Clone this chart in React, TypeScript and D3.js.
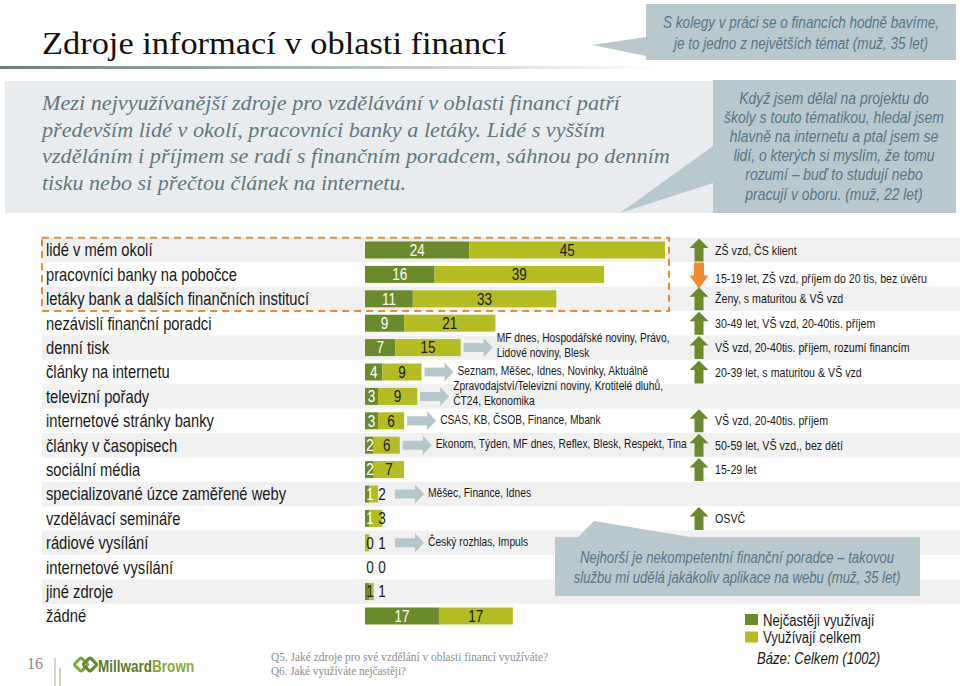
import React from "react";
import * as d3 from "d3";

const categories = [
  "lidé v mém okolí",
  "pracovníci banky na pobočce",
  "letáky bank a dalších finančních institucí",
  "nezávislí finanční poradci",
  "denní tisk",
  "články na internetu",
  "televizní pořady",
  "internetové stránky banky",
  "články v časopisech",
  "sociální média",
  "specializované úzce zaměřené weby",
  "vzdělávací semináře",
  "rádiové vysílání",
  "internetové vysílání",
  "jiné zdroje",
  "žádné",
];
const mostOften = [24, 16, 11, 9, 7, 4, 3, 3, 2, 2, 1, 1, 0, 0, 1, 17];
const usedTotal = [45, 39, 33, 21, 15, 9, 9, 6, 6, 7, 2, 3, 1, 0, 1, 17];
const sourceNotes: string[][] = [
  [], [], [], [],
  ["MF dnes, Hospodářské noviny, Právo,", "Lidové noviny, Blesk"],
  ["Seznam, Měšec, Idnes, Novinky, Aktuálně"],
  ["Zpravodajství/Televizní noviny, Krotitelé dluhů,", "ČT24, Ekonomika"],
  ["CSAS, KB, ČSOB, Finance, Mbank"],
  ["Ekonom, Týden, MF dnes, Reflex, Blesk, Respekt, Tina"],
  [],
  ["Měšec, Finance, Idnes"],
  [],
  ["Český rozhlas, Impuls"],
  [], [], [],
];
const segmentNotes = [
  "ZŠ vzd, ČS klient",
  "15-19 let, ZŠ vzd, příjem do 20 tis, bez úvěru",
  "Ženy, s maturitou & VŠ vzd",
  "30-49 let, VŠ vzd, 20-40tis. příjem",
  "VŠ vzd, 20-40tis. příjem, rozumí financím",
  "20-39 let, s maturitou & VŠ vzd",
  "",
  "VŠ vzd, 20-40tis. příjem",
  "50-59 let, VŠ vzd,, bez dětí",
  "15-29 let",
  "",
  "OSVČ",
  "", "", "", "",
];
const segmentTrend = ["up", "down", "up", "up", "up", "up", "", "up", "up", "up", "", "up", "", "", "", ""];
const highlightedRows = [0, 1, 2];
const legendLabels = ["Nejčastěji využívají", "Využívají celkem"];

const titleText = "Zdroje informací v oblasti financí";
const summaryLines = [
  "Mezi nejvyužívanější zdroje pro vzdělávání v oblasti financí patří",
  "především lidé v okolí, pracovníci banky a letáky. Lidé s vyšším",
  "vzděláním i příjmem se radí s finančním poradcem, sáhnou po denním",
  "tisku nebo si přečtou článek na internetu.",
];
const quoteTop = [
  "S kolegy v práci se o financích hodně bavíme,",
  "je to jedno z největších témat (muž, 35 let)",
];
const quoteRight = [
  "Když jsem dělal na projektu do",
  "školy s touto tématikou, hledal jsem",
  "hlavně na internetu a ptal jsem se",
  "lidí, o kterých si myslím, že tomu",
  "rozumí – buď to studují nebo",
  "pracují v oboru. (muž, 22 let)",
];
const quoteBottom = [
  "Nejhorší je nekompetentní finanční poradce – takovou",
  "službu mi udělá jakákoliv aplikace na webu (muž, 35 let)",
];
const footnotes = [
  "Q5. Jaké zdroje pro své vzdělání v oblasti financí využíváte?",
  "Q6. Jaké využíváte nejčastěji?",
];
const baseNote = "Báze: Celkem (1002)";

const DARK = "#6a8a2b";
const LIGHT = "#b3bc21";
const ORANGE = "#ee8b2c";
const QUOTE_BG = "#b8c8cd";
const QUOTE_TXT = "#5a7684";
const BAND = "#f0f0f0";
const ARROW_GRAY = "#b6c7cc";
const SANS = "'Liberation Sans', Arial, sans-serif";
const SERIF = "'Liberation Serif', 'Times New Roman', serif";
const NARROW = 0.82;

function NText(props: {
  x: number; y: number; size: number; children: any;
  anchor?: string; fill?: string; italic?: boolean; weight?: string | number;
}) {
  const { x, y, size, children, anchor = "start", fill = "#1a1a1a", italic = false, weight = "normal" } = props;
  return (
    <text
      transform={`translate(${x},${y}) scale(${NARROW},1)`}
      fontSize={size}
      textAnchor={anchor as any}
      fill={fill}
      fontStyle={italic ? "italic" : "normal"}
      fontWeight={weight as any}
      fontFamily={SANS}
    >
      {children}
    </text>
  );
}

export default function App() {
  const W = 960, H = 686;
  const y = d3.scaleBand<string>().domain(categories).range([237.8, 628.2]).padding(0);
  const x = d3.scaleLinear().domain([0, 69]).range([365, 665]);
  const bh = 17;
  const bw = y.bandwidth();

  const hl0 = y(categories[highlightedRows[0]])!;
  const hl1 = y(categories[highlightedRows[highlightedRows.length - 1]])! + bw;

  const upArrow = (cx: number, cy: number) =>
    `M${cx},${cy - 11.5} L${cx + 9.5},${cy - 2} L${cx + 4.5},${cy - 2} L${cx + 4.5},${cy + 11.5} L${cx - 4.5},${cy + 11.5} L${cx - 4.5},${cy - 2} L${cx - 9.5},${cy - 2} Z`;
  const downArrow = (cx: number, cy: number) =>
    `M${cx - 5},${cy - 12} L${cx + 5},${cy - 12} L${cx + 5},${cy + 1} L${cx + 9.5},${cy + 1} L${cx},${cy + 14} L${cx - 9.5},${cy + 1} L${cx - 5},${cy + 1} Z`;
  const grayArrow = (ax: number, cy: number) =>
    `M${ax},${cy - 4.5} L${ax + 20},${cy - 4.5} L${ax + 20},${cy - 9.5} L${ax + 29},${cy} L${ax + 20},${cy + 9.5} L${ax + 20},${cy + 4.5} L${ax},${cy + 4.5} Z`;

  return (
    <svg width={W} height={H} viewBox={`0 0 ${W} ${H}`} style={{ display: "block", position: "absolute", left: 0, top: 0 }}>
      <defs>
        <linearGradient id="titleLine" x1="0" x2="1" y1="0" y2="0">
          <stop offset="0" stopColor="#6e7e80" />
          <stop offset="0.45" stopColor="#a9b4b6" />
          <stop offset="1" stopColor="#ffffff" />
        </linearGradient>
      </defs>
      <rect x={0} y={0} width={W} height={H} fill="#ffffff" />

      {/* Title */}
      <text x={42} y={54} fontFamily={SERIF} fontSize={31} fill="#111" textLength={464} lengthAdjust="spacingAndGlyphs">
        {titleText}
      </text>
      <rect x={0} y={66} width={660} height={3} fill="url(#titleLine)" />

      {/* Top-right quote */}
      <path d="M592,45 L646,37 L646,56 Z" fill={QUOTE_BG} />
      <rect x={646} y={4} width={310} height={56} fill={QUOTE_BG} />
      {quoteTop.map((t, i) => (
        <NText key={i} x={801} y={28 + i * 20.5} size={16.5} anchor="middle" fill={QUOTE_TXT} italic>
          {t}
        </NText>
      ))}

      {/* Summary box */}
      <rect x={5} y={81} width={708} height={132} fill="#e9ecee" />
      {summaryLines.map((t, i) => (
        <text
          key={i}
          x={42}
          y={110 + i * 26.7}
          fontFamily={SERIF}
          fontStyle="italic"
          fontSize={21}
          fill="#62787e"
          textLength={[578, 563, 628, 364][i]}
          lengthAdjust="spacingAndGlyphs"
        >
          {t}
        </text>
      ))}

      {/* Right quote */}
      <path d="M620,213 L713,146 L713,183 Z" fill={QUOTE_BG} />
      <rect x={713} y={80} width={243} height={133} fill={QUOTE_BG} />
      {quoteRight.map((t, i) => (
        <NText key={i} x={834} y={104 + i * 19.1} size={17} anchor="middle" fill={QUOTE_TXT} italic>
          {t}
        </NText>
      ))}

      {/* Row bands */}
      {categories.map((c, i) =>
        i % 2 === 0 ? <rect key={c} x={42} y={y(c)!} width={W - 42} height={bw} fill={BAND} /> : null
      )}

      {/* Category labels */}
      {categories.map((c) => (
        <NText key={c} x={46} y={y(c)! + bw / 2 + 6.3} size={18}>
          {c}
        </NText>
      ))}

      {/* Bars */}
      {categories.map((c, i) => {
        const d = mostOften[i];
        const t = usedTotal[i];
        const cy = y(c)! + bw / 2;
        const lx1 = Math.max(x(d / 2), x(0) + 5);
        const lx2 = Math.max(x(d + t / 2), lx1 + 12);
        return (
          <g key={c}>
            <rect x={x(0)} y={cy - bh / 2} width={x(d) - x(0)} height={bh} fill={DARK} />
            <rect x={x(d)} y={cy - bh / 2} width={x(d + t) - x(d)} height={bh} fill={LIGHT} />
            <NText x={lx1} y={cy + 5.8} size={16.5} anchor="middle" fill={d >= 1 && i !== 14 ? "#ffffff" : "#1a1a1a"}>
              {d}
            </NText>
            <NText x={lx2} y={cy + 5.8} size={16.5} anchor="middle" fill="#1a1a1a">
              {t}
            </NText>
          </g>
        );
      })}

      {/* Source notes with arrows */}
      {categories.map((c, i) => {
        const notes = sourceNotes[i];
        if (!notes.length) return null;
        const d = mostOften[i];
        const t = usedTotal[i];
        const cy = y(c)! + bw / 2;
        const lx1 = Math.max(x(d / 2), x(0) + 5);
        const lx2 = Math.max(x(d + t / 2), lx1 + 12);
        const ax = Math.max(x(d + t), lx2 + 10) + 3;
        return (
          <g key={c}>
            <path d={grayArrow(ax, cy)} fill={ARROW_GRAY} />
            {notes.length === 1 ? (
              <NText x={ax + 33} y={cy + 3} size={12.5}>
                {notes[0]}
              </NText>
            ) : (
              notes.map((n, k) => (
                <NText key={k} x={ax + 33} y={cy - 6 + k * 15} size={12.5}>
                  {n}
                </NText>
              ))
            )}
          </g>
        );
      })}

      {/* Highlight dashed box */}
      <rect
        x={42}
        y={hl0}
        width={x(69) + 4 - 42}
        height={hl1 - hl0}
        fill="none"
        stroke={ORANGE}
        strokeWidth={2}
        strokeDasharray="7,5"
      />

      {/* Segment column */}
      {categories.map((c, i) => {
        const cy = y(c)! + bw / 2;
        const tr = segmentTrend[i];
        if (!tr) return null;
        return (
          <g key={c}>
            <path d={tr === "up" ? upArrow(699, cy) : downArrow(699, cy)} fill={tr === "up" ? DARK : ORANGE} />
            <NText x={715} y={cy + 4.5 + (tr === "down" ? 4 : 0)} size={13}>
              {segmentNotes[i]}
            </NText>
          </g>
        );
      })}

      {/* Bottom quote */}
      <path d="M594,521 L578,537 L690,537 Z" fill={QUOTE_BG} />
      <rect x={555} y={537} width={365} height={59} fill={QUOTE_BG} />
      {quoteBottom.map((t, i) => (
        <NText key={i} x={737} y={563 + i * 20} size={16} anchor="middle" fill={QUOTE_TXT} italic>
          {t}
        </NText>
      ))}

      {/* Legend */}
      {legendLabels.map((l, i) => (
        <g key={l}>
          <rect x={745} y={614 + i * 17.5} width={13} height={11} fill={i === 0 ? DARK : LIGHT} />
          <NText x={763} y={625.5 + i * 17.5} size={16}>
            {l}
          </NText>
        </g>
      ))}
      <NText x={757} y={664} size={16} italic>
        {baseNote}
      </NText>

      {/* Footer */}
      <text x={27} y={669} fontFamily={SERIF} fontSize={16} fill="#8a8a8a">16</text>
      <line x1={55} y1={658} x2={55} y2={686} stroke="#b5b5b5" strokeWidth={1.2} />
      <line x1={60} y1={668} x2={60} y2={686} stroke="#a8b86a" strokeWidth={1.2} />
      <g transform="translate(86,665)">
        <rect x={-10} y={-5.5} width={10} height={10} rx={2} transform="rotate(45 -5 -0.5)" fill="none" stroke="#8aa83a" strokeWidth={3.2} />
        <rect x={-1} y={-5.5} width={10} height={10} rx={2} transform="rotate(45 4 -0.5)" fill="none" stroke="#6a8a2b" strokeWidth={3.2} />
      </g>
      <g transform="translate(98,672) scale(0.82,1)">
        <text x={0} y={0} fontFamily={SANS} fontSize={16.5} fontWeight="bold">
          <tspan fill="#5f7a25">Millward</tspan>
          <tspan fill="#8aa83a">Brown</tspan>
        </text>
      </g>
      {footnotes.map((f, i) => (
        <text
          key={i}
          x={271}
          y={661 + i * 13.5}
          fontFamily={SERIF}
          fontSize={12}
          fill="#8c8c8c"
          textLength={i === 0 ? 277 : 135}
          lengthAdjust="spacingAndGlyphs"
        >
          {f}
        </text>
      ))}
    </svg>
  );
}
